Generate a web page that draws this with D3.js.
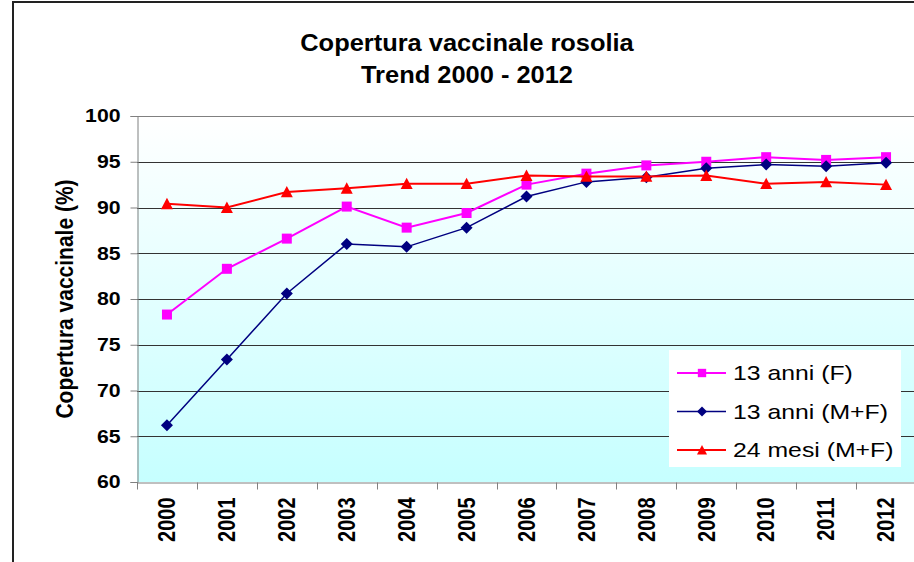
<!DOCTYPE html>
<html lang="it">
<head>
<meta charset="utf-8">
<title>Copertura vaccinale rosolia</title>
<script src="https://cdn.jsdelivr.net/npm/d3@7"></script>
<style>
  html, body { margin: 0; padding: 0; background: #fff; overflow: hidden; }
  body { font-family: "Liberation Sans", Arial, sans-serif; }
  text { font-family: "Liberation Sans", Arial, sans-serif; fill: #000; }
  .tick text { font-weight: bold; }
</style>
</head>
<body>
<div id="chart"></div>
<script>
// ---------- data ----------
var years = ["2000","2001","2002","2003","2004","2005","2006","2007","2008","2009","2010","2011","2012"];
var yTicks = [60, 65, 70, 75, 80, 85, 90, 95, 100];

var anni13F  = [78.3, 83.3, 86.6, 90.1, 87.8, 89.4, 92.5, 93.7, 94.6, 95.0, 95.5, 95.2, 95.5];
var anni13MF = [66.2, 73.4, 80.6, 86.0, 85.7, 87.8, 91.2, 92.8, 93.3, 94.3, 94.7, 94.5, 94.9];
var mesi24MF = [90.4, 90.0, 91.7, 92.1, 92.6, 92.6, 93.5, 93.4, 93.4, 93.5, 92.6, 92.8, 92.5];

// diamond drawn as a square turned by 45deg (wider than d3's own diamond)
var symbolRhomb = {
  draw: function(ctx, size) {
    var r = Math.sqrt(size) / 2;
    ctx.moveTo(0, -r); ctx.lineTo(r, 0); ctx.lineTo(0, r); ctx.lineTo(-r, 0); ctx.closePath();
  }
};
// triangle centred on its bounding box, like the spreadsheet marker
var symbolTri = {
  draw: function(ctx, size) {
    var r = Math.sqrt(size) / 2;
    ctx.moveTo(0, -r); ctx.lineTo(r, r * 0.9); ctx.lineTo(-r, r * 0.9); ctx.closePath();
  }
};

var series = [
  {name: "13 anni (F)",   values: anni13F,  color: "#ff00ff", symbol: d3.symbolSquare, size: 100, width: 2},
  {name: "13 anni (M+F)", values: anni13MF, color: "#000080", symbol: symbolRhomb,     size: 144, width: 1.5},
  {name: "24 mesi (M+F)", values: mesi24MF, color: "#ff0000", symbol: symbolTri,       size: 144, width: 2}
];

// ---------- layout ----------
var W = 914, H = 562;
var plot = {left: 137, top: 116, right: 916, bottom: 482};

var svg = d3.select("#chart").append("svg")
    .attr("width", W).attr("height", H);

// outer chart border (right/bottom edges fall outside the window)
svg.append("rect")
    .attr("x", 13).attr("y", 2)
    .attr("width", W + 20).attr("height", H + 20)
    .attr("fill", "#fff").attr("stroke", "#222").attr("stroke-width", 2);

var x = d3.scaleBand().domain(years).range([plot.left, plot.right]).padding(0);
var y = d3.scaleLinear().domain([60, 100]).range([plot.bottom, plot.top]);

// plot background gradient
var defs = svg.append("defs");
var grad = defs.append("linearGradient").attr("id", "bg")
    .attr("x1", "0%").attr("y1", "0%").attr("x2", "0%").attr("y2", "100%");
grad.append("stop").attr("offset", "0%").attr("stop-color", "#ffffff");
grad.append("stop").attr("offset", "100%").attr("stop-color", "#c6ffff");

svg.append("rect")
    .attr("x", plot.left).attr("y", plot.top)
    .attr("width", plot.right - plot.left).attr("height", plot.bottom - plot.top)
    .attr("fill", "url(#bg)");

// gridlines
svg.append("g")
  .selectAll("line")
  .data(yTicks.filter(function(d) { return d > 60; }))
  .enter().append("line")
    .attr("x1", plot.left).attr("x2", plot.right)
    .attr("y1", function(d) { return Math.round(y(d)) + 0.5; })
    .attr("y2", function(d) { return Math.round(y(d)) + 0.5; })
    .attr("stroke", function(d) { return d === 100 ? "#808080" : "#333"; })
    .attr("stroke-width", 1);

// y axis
var yAxis = svg.append("g")
    .attr("transform", "translate(" + (plot.left + 0.5) + ",0)")
    .call(d3.axisLeft(y).tickValues(yTicks).tickSize(7).tickPadding(10));
yAxis.selectAll(".tick text")
    .style("font-size", "18px")
    .attr("x", null)
    .attr("transform", "translate(-17,0) scale(1.18,1)");
yAxis.select(".domain").attr("stroke", "#808080");
yAxis.selectAll(".tick line").attr("stroke", "#808080");

// x axis
var xAxis = svg.append("g")
    .attr("transform", "translate(0," + (plot.bottom + 0.5) + ")")
    .call(d3.axisBottom(x).tickSize(0).tickPadding(0));
xAxis.select(".domain").attr("stroke", "#808080");
xAxis.selectAll(".tick text")
    .style("font-size", "20px")
    .attr("transform", "rotate(-90) scale(1,1.18)")
    .attr("x", -15).attr("y", 0).attr("dy", "0.35em")
    .style("text-anchor", "end");
// tick marks between categories
xAxis.append("g").selectAll("line")
  .data(years)
  .enter().append("line")
    .attr("x1", function(d) { return Math.round(x(d)) + 0.5; })
    .attr("x2", function(d) { return Math.round(x(d)) + 0.5; })
    .attr("y1", 0).attr("y2", 7)
    .attr("stroke", "#808080");

// y axis title
svg.append("text")
    .attr("transform", "translate(73," + ((plot.top + plot.bottom) / 2) + ") rotate(-90) scale(1,1.1)")
    .attr("text-anchor", "middle")
    .style("font-size", "21px").style("font-weight", "bold")
    .text("Copertura vaccinale (%)");

// title
var titleG = svg.append("g").attr("transform", "translate(467,0) scale(1.06,1)");
var title = titleG.append("text")
    .attr("text-anchor", "middle")
    .style("font-size", "24px").style("font-weight", "bold");
title.append("tspan").attr("x", 0).attr("y", 51).text("Copertura vaccinale rosolia");
title.append("tspan").attr("x", 0).attr("y", 83).text("Trend 2000 - 2012");

// lines and markers
var cx = function(i) { return x(years[i]) + x.bandwidth() / 2; };
var line = d3.line()
    .x(function(d, i) { return cx(i); })
    .y(function(d) { return y(d); });

var seriesG = svg.append("g").selectAll("g")
  .data(series)
  .enter().append("g");

seriesG.append("path")
    .attr("fill", "none")
    .attr("stroke", function(s) { return s.color; })
    .attr("stroke-width", function(s) { return s.width; })
    .attr("d", function(s) { return line(s.values); });

seriesG.each(function(s) {
  d3.select(this).selectAll("path.mk")
    .data(s.values)
    .enter().append("path")
      .attr("class", "mk")
      .attr("transform", function(d, i) { return "translate(" + cx(i) + "," + y(d) + ")"; })
      .attr("d", d3.symbol().type(s.symbol).size(s.size))
      .attr("fill", s.color);
});

// legend
var leg = svg.append("g").attr("transform", "translate(669,350)");
leg.append("rect")
    .attr("width", 232).attr("height", 117)
    .attr("fill", "#fff");
var items = leg.selectAll("g.item")
  .data(series)
  .enter().append("g")
    .attr("class", "item")
    .attr("transform", function(s, i) { return "translate(0," + (23 + i * 38.5) + ")"; });
items.append("line")
    .attr("x1", 8).attr("x2", 57)
    .attr("stroke", function(s) { return s.color; })
    .attr("stroke-width", function(s) { return s.width; });
items.append("path")
    .attr("transform", "translate(33,0)")
    .attr("d", function(s) { return d3.symbol().type(s.symbol).size(s.size * 0.7)(); })
    .attr("fill", function(s) { return s.color; });
items.append("text")
    .attr("transform", "translate(64,0) scale(1.24,1)")
    .attr("dy", "0.35em")
    .style("font-size", "20px")
    .text(function(s) { return s.name; });
</script>
</body>
</html>
